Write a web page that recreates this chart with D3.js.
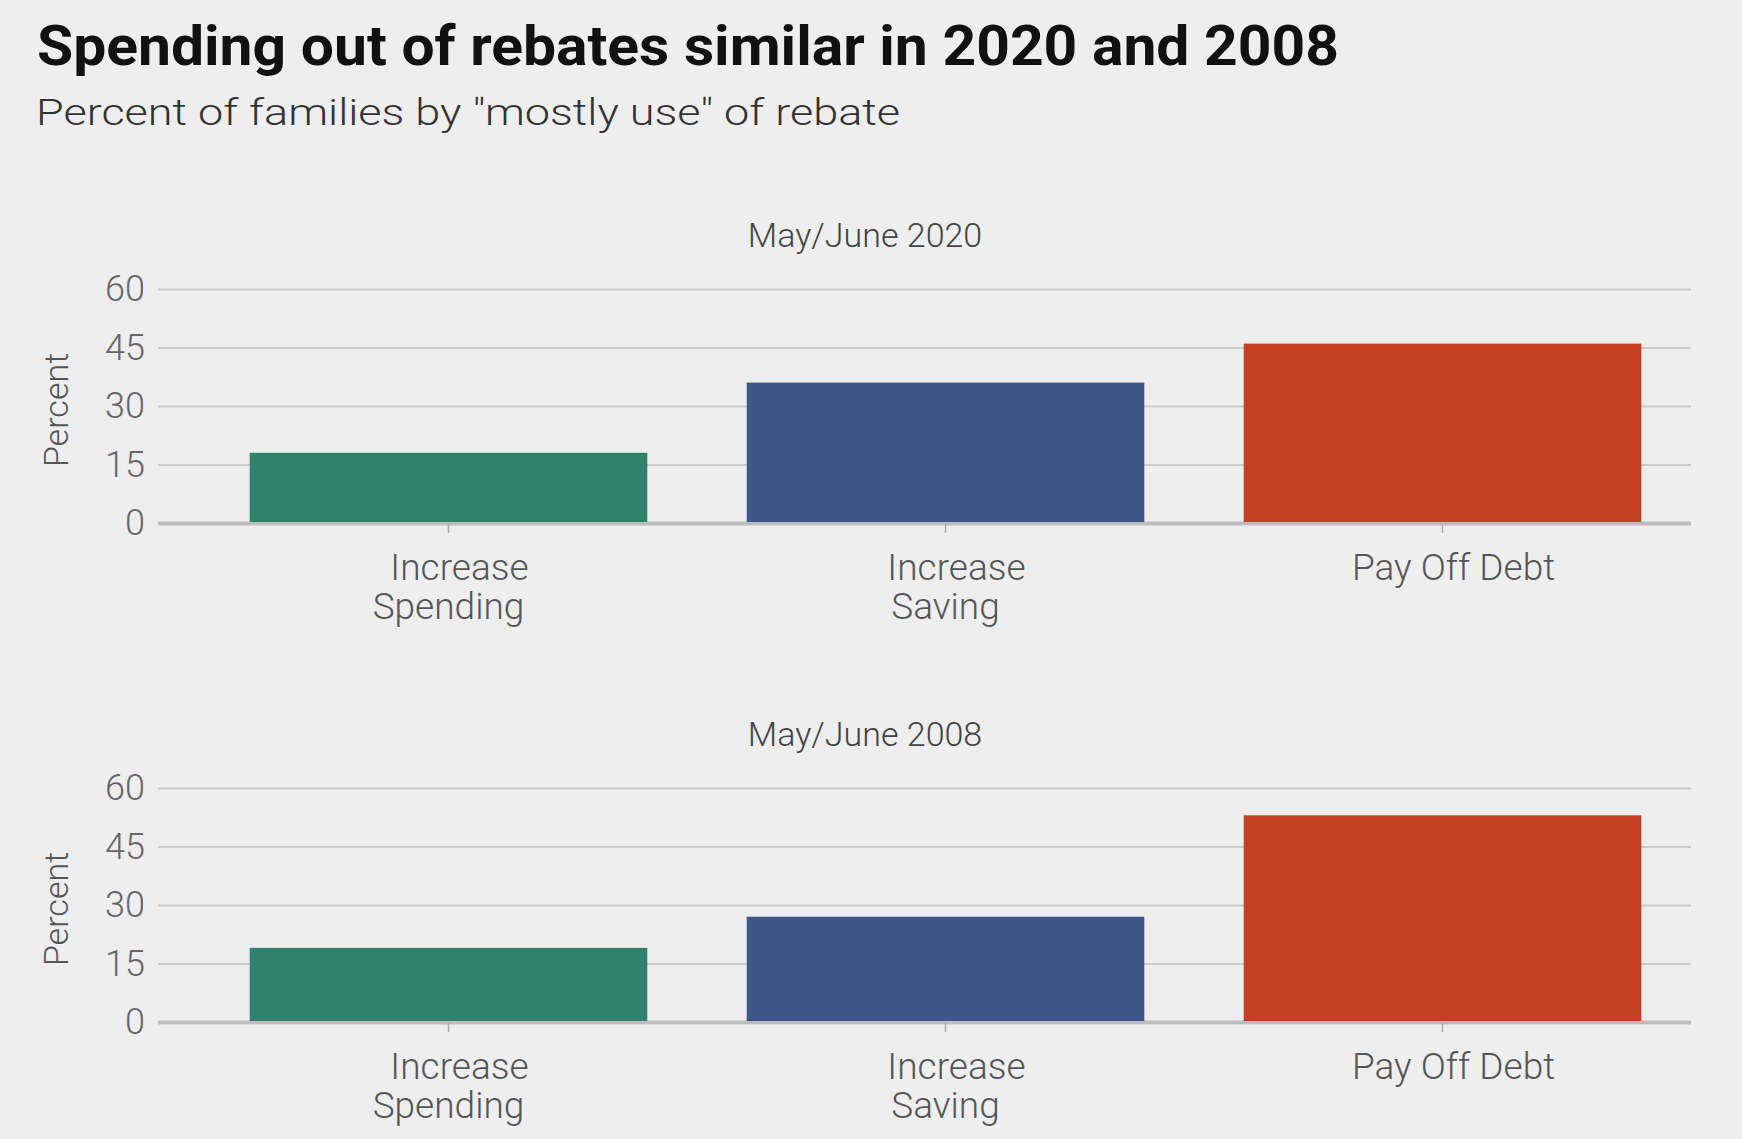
<!DOCTYPE html>
<html>
<head>
    <script src="https://cdn.jsdelivr.net/npm/d3@7"></script>
    <style>
        body {
            margin: 0;
            background-color: #eeeeee;
        }

        svg {
            display: block;
            font-family: Roboto, "Noto Sans", sans-serif;
        }

        .grid line {
            stroke: #cbcbcb;
            stroke-width: 2px;
        }

        .grid .zero line {
            stroke: #bdbdbd;
            stroke-width: 4px;
        }

        .grid text {
            fill: #666;
            font-family: Roboto, "Noto Sans", sans-serif;
            font-size: 36px;
            font-weight: 300;
        }

        .xaxis line {
            stroke: #aaa;
            stroke-width: 1.5px;
        }

        .cat {
            fill: #555;
            font-size: 37px;
            font-weight: 300;
        }
    </style>
</head>
<body>
    <div id="chart"></div>
    <script>
        const panels = ['May/June 2020', 'May/June 2008']
        const categories = ['Increase Spending', 'Increase Saving', 'Pay Off Debt']
        const categoryLines = [['Increase', 'Spending'], ['Increase', 'Saving'], ['Pay Off Debt']]
        const values2020 = [18, 36, 46]
        const values2008 = [19, 27, 53]
        const yTicks = [0, 15, 30, 45, 60]
        const colors = ['#31826a', '#3d578b', '#c43f26']

        const seriesValues = [values2020, values2008]

        const w = 1742
        const h = 1139
        const gridLeft = 158
        const plotRight = 1691
        const bandLeft = 200
        const firstTop = 289
        const panelStep = 499
        const plotH = 234

        const svg = d3.select('#chart')
            .append('svg')
            .attr('width', w)
            .attr('height', h)

        svg.append('rect')
            .attr('width', w)
            .attr('height', h)
            .attr('fill', '#eeeeee')

        svg.append('text')
            .attr('x', 37)
            .attr('y', 65)
            .attr('textLength', 1302)
            .attr('lengthAdjust', 'spacingAndGlyphs')
            .style('font-size', '56px')
            .style('font-weight', 700)
            .style('fill', '#111')
            .text('Spending out of rebates similar in 2020 and 2008')

        svg.append('text')
            .attr('x', 36)
            .attr('y', 125)
            .attr('textLength', 864)
            .attr('lengthAdjust', 'spacingAndGlyphs')
            .style('font-size', '37px')
            .style('font-weight', 300)
            .style('fill', '#333')
            .text('Percent of families by "mostly use" of rebate')

        const x = d3.scaleBand()
            .domain(categories)
            .range([bandLeft, plotRight])
            .paddingInner(0.2)
            .paddingOuter(0.1)

        panels.forEach((title, i) => {
            const top = firstTop + panelStep * i
            const y = d3.scaleLinear()
                .domain([0, 60])
                .range([top + plotH, top])

            const g = svg.append('g')

            g.append('text')
                .attr('x', 865)
                .attr('y', top - 42)
                .attr('text-anchor', 'middle')
                .style('font-size', '34px')
                .style('font-weight', 300)
                .style('fill', '#444')
                .text(title)

            const grid = g.append('g')
                .attr('class', 'grid')
                .attr('transform', `translate(${gridLeft}, 0)`)
                .call(d3.axisLeft(y)
                    .tickValues(yTicks)
                    .tickSize(-(plotRight - gridLeft))
                    .tickPadding(13))
            grid.select('.domain').remove()
            grid.selectAll('.tick')
                .classed('zero', d => d === 0)

            g.append('text')
                .attr('transform', `translate(68, ${top + plotH / 2 + 4}) rotate(-90)`)
                .attr('text-anchor', 'middle')
                .style('font-size', '34px')
                .style('font-weight', 300)
                .style('fill', '#555')
                .text('Percent')

            g.selectAll('.bar')
                .data(seriesValues[i])
                .enter()
                .append('rect')
                .attr('class', 'bar')
                .attr('x', (d, j) => x(categories[j]))
                .attr('y', d => y(d))
                .attr('width', x.bandwidth())
                .attr('height', d => y(0) - y(d) - 1)
                .attr('fill', (d, j) => colors[j])

            const xAxis = g.append('g')
                .attr('class', 'xaxis')
                .attr('transform', `translate(0, ${top + plotH + 1})`)
                .call(d3.axisBottom(x).tickSize(9).tickFormat(''))
            xAxis.select('.domain').remove()

            categories.forEach((c, j) => {
                const t = g.append('text')
                    .attr('class', 'cat')
                    .attr('text-anchor', 'middle')
                    .attr('y', top + plotH + 57)
                categoryLines[j].forEach((line, k) => {
                    t.append('tspan')
                        .attr('x', x(c) + x.bandwidth() / 2)
                        .attr('dx', k === 0 ? 11 : 0)
                        .attr('dy', k === 0 ? 0 : 39)
                        .text(line)
                })
            })
        })
    </script>
</body>
</html>
